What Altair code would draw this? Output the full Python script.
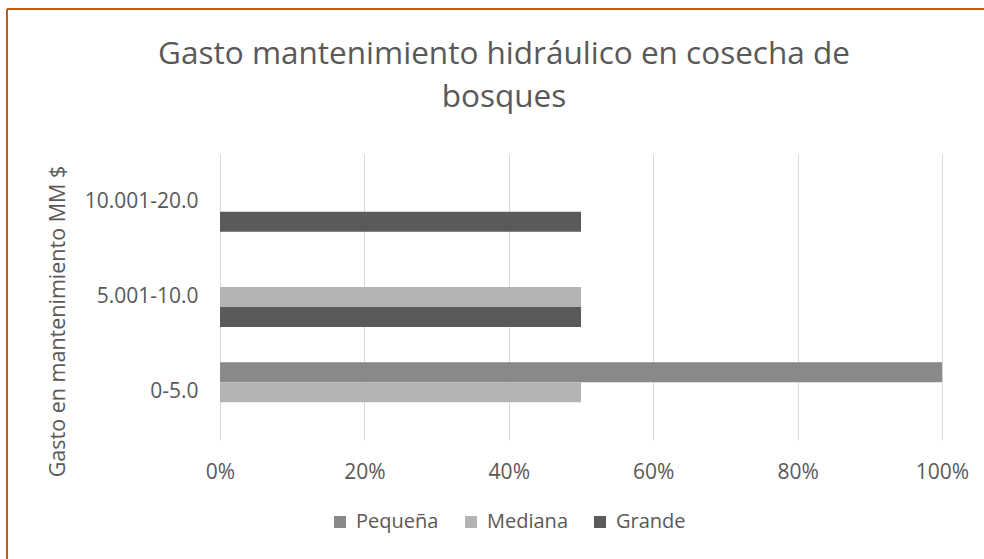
import altair as alt
import pandas as pd

title_lines = ["Gasto mantenimiento hidráulico  en cosecha de", "bosques"]
categories = ["0-5.0", "5.001-10.0", "10.001-20.0"]
series = ["Pequeña", "Mediana", "Grande"]
pequena = [1.00, 0.0, 0.0]
mediana = [0.50, 0.50, 0.0]
grande = [0.0, 0.50, 0.50]
colors = ["#898989", "#b3b3b3", "#5a5a5a"]
x_ticks = [0, 0.2, 0.4, 0.6, 0.8, 1.0]

rows = []
for s, vals in zip(series, [pequena, mediana, grande]):
    for c, v in zip(categories, vals):
        rows.append({"cat": c, "serie": s, "valor": v})
df = pd.DataFrame(rows)

FONT = "Open Sans"
TXT = "#595959"

bars = alt.Chart(df).mark_bar().encode(
    x=alt.X("valor:Q", scale=alt.Scale(domain=[0, 1]),
            axis=alt.Axis(values=x_ticks, format=".0%", title=None, ticks=False, tickSize=0,
                          domain=False, grid=True, gridColor="#d9d9d9", gridWidth=1,
                          labelFlush=False, labelOverlap=False,
                          labelFont=FONT, labelFontSize=21, labelColor=TXT, labelPadding=21)),
    y=alt.Y("cat:N", sort=list(reversed(categories)),
            scale=alt.Scale(paddingInner=0.37, paddingOuter=0.185),
            axis=alt.Axis(title="Gasto en mantenimiento MM $", ticks=False, domain=False,
                          labelFont=FONT, labelFontSize=21, labelColor=TXT, labelPadding=22,
                          titleFont=FONT, titleFontSize=21.5, titleColor=TXT, titleFontWeight="normal",
                          titleX=-156, titleY=167, titleAngle=270, titleAlign="center",
                          titleBaseline="alphabetic")),
    yOffset=alt.YOffset("serie:N", sort=series),
    color=alt.Color("serie:N", sort=series,
                    scale=alt.Scale(domain=series, range=colors),
                    legend=alt.Legend(title=None, orient="none", legendX=110, legendY=358,
                                      direction="horizontal", symbolType="square", symbolSize=144,
                                      symbolStrokeWidth=0, labelFont=FONT, labelFontSize=20,
                                      labelColor=TXT, labelOffset=6, columnPadding=22)),
)

title_df = pd.DataFrame({"k": [0]})
title_text = alt.Chart(title_df).mark_text(
    font=FONT, fontSize=31.5, color=TXT, align="center", baseline="alphabetic", lineHeight=43
).encode(x=alt.value(284), y=alt.value(-90), text=alt.value(title_lines))

border_color = "#c55a11"
top_border = alt.Chart(title_df).mark_rule(color=border_color, strokeWidth=2).encode(
    x=alt.value(-213), x2=alt.value(764), y=alt.value(-145))
left_border = alt.Chart(title_df).mark_rule(color=border_color, strokeWidth=2).encode(
    x=alt.value(-213), y=alt.value(-145), y2=alt.value(405))

chart = alt.layer(bars, title_text, top_border, left_border).properties(
    width=722, height=286,
    padding={"left": 220, "top": 154, "right": 42, "bottom": 119},
    autosize=alt.AutoSizeParams(type="none"),
    background="white",
).configure_view(stroke=None)

chart.save("out.html", embed_options={"renderer": "svg", "actions": False})
